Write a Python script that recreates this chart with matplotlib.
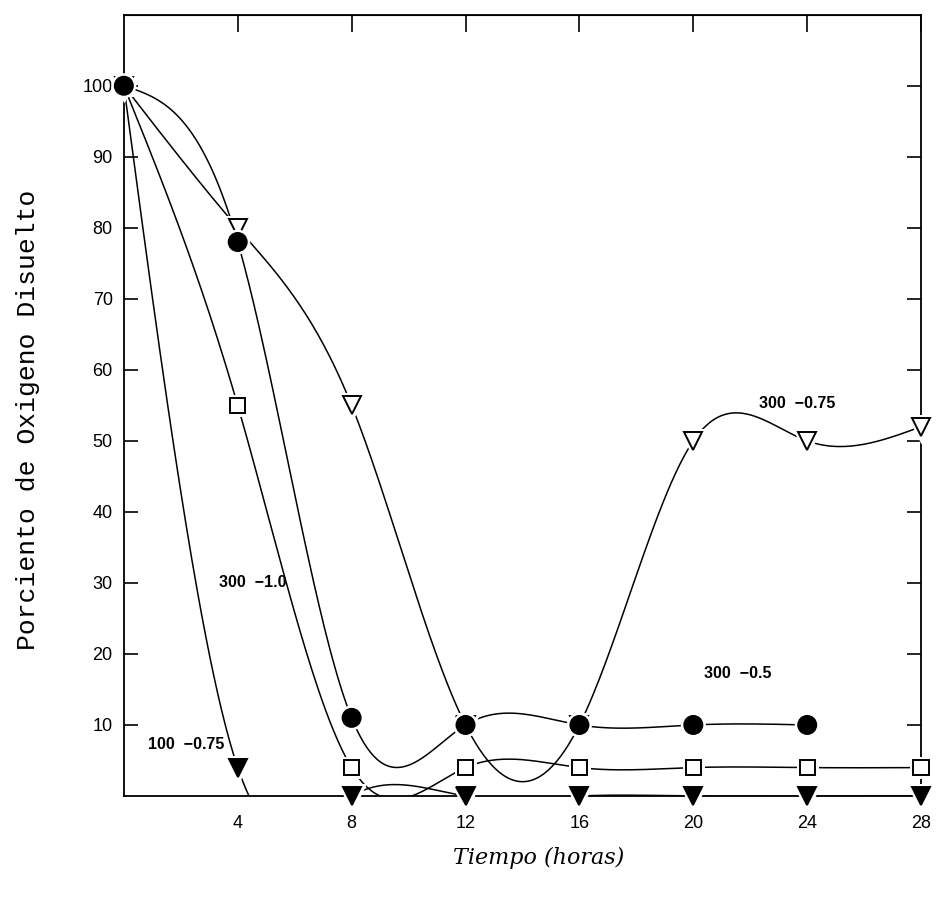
import numpy as np
import matplotlib
matplotlib.use("Agg")
import matplotlib.pyplot as plt
import matplotlib.patheffects as pe

# Tiempo (horas)
t_300_075 = [0, 4, 8, 12, 16, 20, 24, 28]
o2_300_075 = [100, 80, 55, 10, 10, 50, 50, 52]

t_300_05 = [0, 4, 8, 12, 16, 20, 24]
o2_300_05 = [100, 78, 11, 10, 10, 10, 10]

t_300_10 = [0, 4, 8, 12, 16, 20, 24, 28]
o2_300_10 = [100, 55, 4, 4, 4, 4, 4, 4]

t_100_075 = [0, 4, 8, 12, 16, 20, 24, 28]
o2_100_075 = [100, 4, 0, 0, 0, 0, 0, 0]

x_ticks = [4, 8, 12, 16, 20, 24, 28]
y_ticks = [10, 20, 30, 40, 50, 60, 70, 80, 90, 100]


def natural_spline(x, y, n=400):
    """Spline cubico natural por los puntos (x, y)"""
    x = np.asarray(x, float)
    y = np.asarray(y, float)
    k = len(x)
    h = np.diff(x)
    A = np.zeros((k, k))
    b = np.zeros(k)
    A[0, 0] = A[-1, -1] = 1
    for i in range(1, k - 1):
        A[i, i - 1] = h[i - 1]
        A[i, i] = 2 * (h[i - 1] + h[i])
        A[i, i + 1] = h[i]
        b[i] = 6 * ((y[i + 1] - y[i]) / h[i] - (y[i] - y[i - 1]) / h[i - 1])
    m = np.linalg.solve(A, b)
    xs = np.linspace(x[0], x[-1], n)
    idx = np.clip(np.searchsorted(x, xs) - 1, 0, k - 2)
    x0, x1 = x[idx], x[idx + 1]
    hh = x1 - x0
    a = (x1 - xs) / hh
    c = (xs - x0) / hh
    ys = (a * y[idx] + c * y[idx + 1]
          + ((a ** 3 - a) * m[idx] + (c ** 3 - c) * m[idx + 1]) * hh ** 2 / 6)
    return xs, ys


fig = plt.figure(figsize=(9.38, 8.98), dpi=100)
ax = fig.add_axes([0.132, 0.1136, 0.850, 0.870])

series = [
    (t_100_075, o2_100_075, dict(marker="v", ms=13, mfc="black", mec="black")),
    (t_300_10, o2_300_10, dict(marker="s", ms=11, mfc="white", mec="black")),
    (t_300_075, o2_300_075, dict(marker="v", ms=13, mfc="white", mec="black")),
    (t_300_05, o2_300_05, dict(marker="o", ms=13, mfc="black", mec="black")),
]

for t, o2, mk in series:
    xs, ys = natural_spline(t, o2)
    ax.plot(xs, ys, color="black", lw=1.1, zorder=2)

halo = [pe.Stroke(linewidth=5, foreground="white"), pe.Normal()]
for t, o2, mk in series:
    ax.plot(t, o2, ls="none", mew=1.4, zorder=3, clip_on=False,
            path_effects=halo, **mk)

lab = dict(fontsize=11.5, fontweight="bold", family=["Liberation Sans", "DejaVu Sans"])
ax.text(23.65, 55.2, "300  \u22120.75", ha="center", va="center", **lab)
ax.text(21.57, 17.3, "300  \u22120.5", ha="center", va="center", **lab)
ax.text(4.53, 30.0, "300  \u22121.0", ha="center", va="center", **lab)
ax.text(2.18, 7.2, "100  \u22120.75", ha="center", va="center", **lab)

ax.set_xlim(0, 28)
ax.set_ylim(0, 110)
ax.set_xticks(x_ticks)
ax.set_yticks(y_ticks)
ax.tick_params(axis="both", direction="in", labelsize=13, width=1.2)
ax.tick_params(axis="x", length=0, pad=14)
ax.tick_params(axis="y", length=10, pad=8, right=True)
for lbl in ax.get_xticklabels() + ax.get_yticklabels():
    lbl.set_family(["Liberation Sans", "DejaVu Sans"])

# ticks superiores
sec = ax.secondary_xaxis("top")
sec.set_xticks(x_ticks)
sec.tick_params(direction="in", length=12, width=1.2, labeltop=False)

for s in ax.spines.values():
    s.set_linewidth(1.3)

ax.set_ylabel("Porciento de Oxigeno Disuelto", fontsize=19,
              family=["Liberation Mono", "DejaVu Sans Mono"])
ax.yaxis.set_label_coords(-0.105, 0.482)
ax.set_xlabel("Tiempo (horas)", fontsize=16, style="italic",
              family=["DejaVu Serif"])
ax.xaxis.set_label_coords(0.52, -0.065)

fig.savefig("out.png", dpi=100)
